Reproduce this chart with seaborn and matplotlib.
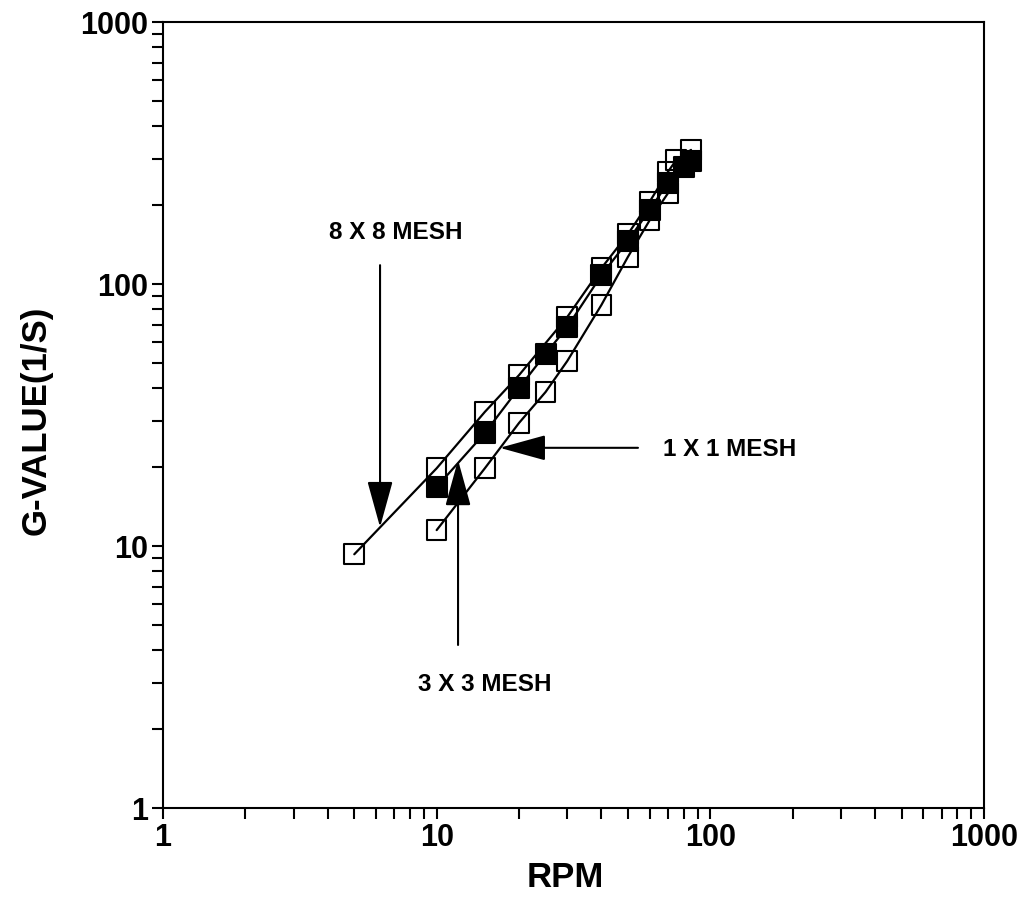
import matplotlib
matplotlib.use("Agg")
import matplotlib.pyplot as plt
from matplotlib.patches import ArrowStyle
from matplotlib.ticker import FixedLocator, FixedFormatter, LogLocator, NullFormatter
import numpy as np
import pandas as pd
import seaborn as sns

# Shear rate (G-value) against impeller speed for three mesh sizes
rpm_8x8 = [5, 10, 15, 20, 30, 40, 50, 60, 70, 75, 85]
g_8x8 = [9.3, 19.8, 32.5, 44.9, 74.8, 115, 155, 206, 268, 297, 325]

rpm_3x3 = [10, 15, 20, 25, 30, 40, 50, 60, 70, 80, 85]
g_3x3 = [16.8, 27.0, 40.1, 54.1, 68.5, 108, 146, 192, 243, 280, 295]

rpm_1x1 = [10, 15, 20, 25, 30, 40, 50, 60, 70]
g_1x1 = [11.5, 19.8, 29.5, 38.7, 50.8, 83.2, 127, 175, 222]

axis_ticks = [1, 10, 100, 1000]
axis_tick_labels = ["1", "10", "100", "1000"]

sns.set_style("ticks")
plt.rcParams["font.family"] = ["Liberation Sans", "DejaVu Sans"]
plt.rcParams["font.weight"] = "bold"
plt.rcParams["text.color"] = "black"
plt.rcParams["axes.labelcolor"] = "black"
plt.rcParams["xtick.color"] = "black"
plt.rcParams["ytick.color"] = "black"

fig = plt.figure(figsize=(10.27, 9), dpi=100)
ax = fig.add_axes([163 / 1027, 92 / 900, 821 / 1027, 786 / 900])

df_8 = pd.DataFrame({"rpm": rpm_8x8, "g": g_8x8})
df_3 = pd.DataFrame({"rpm": rpm_3x3, "g": g_3x3})
df_1 = pd.DataFrame({"rpm": rpm_1x1, "g": g_1x1})

for d in (df_8, df_3, df_1):
    sns.lineplot(data=d, x="rpm", y="g", ax=ax, color="black", lw=1.6,
                 sort=True, estimator=None, zorder=2)

ms = 200
sns.scatterplot(data=df_8, x="rpm", y="g", ax=ax, marker="s", s=ms,
                facecolor="none", edgecolor="black", linewidth=1.5, zorder=3)
sns.scatterplot(data=df_1, x="rpm", y="g", ax=ax, marker="s", s=ms,
                facecolor="none", edgecolor="black", linewidth=1.5, zorder=3)
sns.scatterplot(data=df_3, x="rpm", y="g", ax=ax, marker="s", s=ms,
                color="black", edgecolor="black", linewidth=1.5, zorder=4)

ax.set_xscale("log")
ax.set_yscale("log")
ax.set_xlim(1, 1000)
ax.set_ylim(1, 1000)

for axis in (ax.xaxis, ax.yaxis):
    axis.set_major_locator(FixedLocator(axis_ticks))
    axis.set_major_formatter(FixedFormatter(axis_tick_labels))
    axis.set_minor_locator(LogLocator(base=10, subs=np.arange(2, 10)))
    axis.set_minor_formatter(NullFormatter())

ax.tick_params(which="both", direction="out", length=8, width=1.5,
               top=False, right=False, color="black", labelcolor="black")
ax.tick_params(which="major", labelsize=22, pad=3)
for lab in ax.get_xticklabels() + ax.get_yticklabels():
    lab.set_fontweight("bold")

for sp in ax.spines.values():
    sp.set_visible(True)
    sp.set_linewidth(1.5)
    sp.set_color("black")

ax.set_xlabel("RPM", fontsize=25, fontweight="bold", color="black")
ax.set_ylabel("G-VALUE(1/S)", fontsize=25, fontweight="bold", color="black")
ax.xaxis.set_label_coords(0.49, -0.068)
ax.yaxis.set_label_coords(-0.134, 0.4936)

head = ArrowStyle("-|>", head_length=2.9, head_width=0.8)
arrow_kw = dict(arrowstyle=head, mutation_scale=10, color="black", lw=1.5,
                shrinkA=0, shrinkB=0)

# 8 X 8 MESH: pointer coming down onto the top curve
ax.annotate("", xy=(6.21, 11.8), xytext=(6.21, 118), arrowprops=arrow_kw)
ax.text(7.1, 149, "8 X 8 MESH", ha="center", va="baseline",
        fontsize=17.5, fontweight="bold", color="black")

# 3 X 3 MESH: pointer coming up onto the middle curve
ax.annotate("", xy=(11.97, 21.3), xytext=(11.97, 4.19), arrowprops=arrow_kw)
ax.text(15.0, 2.79, "3 X 3 MESH", ha="center", va="baseline",
        fontsize=17.5, fontweight="bold", color="black")

# 1 X 1 MESH: pointer coming in from the right onto the bottom curve
ax.annotate("", xy=(17.0, 23.7), xytext=(54.4, 23.7), arrowprops=arrow_kw)
ax.text(67.1, 21.96, "1 X 1 MESH", ha="left", va="baseline",
        fontsize=17.5, fontweight="bold", color="black")

fig.savefig("out.png", dpi=100, facecolor="white")
